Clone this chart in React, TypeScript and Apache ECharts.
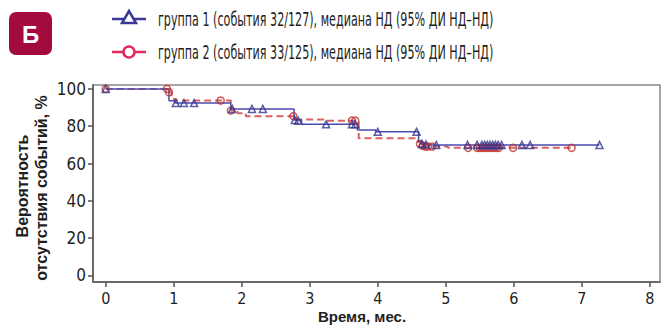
import React, { useEffect, useRef } from "react";
import * as echarts from "echarts";

const xTicks = [0, 1, 2, 3, 4, 5, 6, 7, 8];
const yTicks = [0, 20, 40, 60, 80, 100];

const legendLabels = [
  "группа 1 (события 32/127), медиана НД (95% ДИ НД–НД)",
  "группа 2 (события 33/125), медиана НД (95% ДИ НД–НД)",
];
const yTitleLines = ["Вероятность", "отсутствия событий, %"];
const xTitle = "Время, мес.";
const panelLetter = "Б";

// Kaplan–Meier steps: [time, survival % after the step]
const group1Curve: [number, number][] = [
  [0, 100], [0.93, 93.7], [1.02, 92.4], [1.84, 89.3], [2.77, 83.4], [2.88, 81.0],
  [3.7, 78.0], [3.97, 77.0], [4.6, 72.0], [4.64, 70.5], [4.75, 70.0], [7.26, 70.0],
];
const group1Censored: [number, number][] = [
  [0, 100], [1.03, 92.4], [1.15, 92.4], [1.3, 92.4], [1.86, 89.3], [2.15, 89.3], [2.31, 89.3],
  [2.78, 83.4], [2.83, 83.0], [3.24, 81.0], [3.62, 81.0], [3.67, 81.0], [4.0, 77.0], [4.57, 77.0],
  [4.65, 70.5], [4.71, 70.2], [4.86, 70.0], [5.32, 70.0], [5.46, 70.0], [5.53, 70.0], [5.57, 70.0],
  [5.61, 70.0], [5.65, 70.0], [5.69, 70.0], [5.73, 70.0], [5.77, 70.0], [5.82, 70.0], [6.12, 70.0],
  [6.24, 70.0], [7.26, 70.0],
];
const group2Curve: [number, number][] = [
  [0, 100], [0.92, 98.2], [0.97, 96.3], [1.0, 94.5], [1.04, 93.8], [1.84, 88.4], [1.94, 87.0],
  [2.06, 85.4], [2.77, 83.6], [3.25, 83.0], [3.72, 73.6], [4.59, 71.5], [4.63, 70.0], [4.68, 69.1],
  [5.03, 68.4], [6.85, 68.4],
];
const group2Censored: [number, number][] = [
  [0, 100], [0.9, 100], [0.93, 98.2], [1.69, 93.8], [1.84, 88.4], [2.76, 85.4], [3.62, 83.0],
  [3.67, 83.0], [4.62, 70.5], [4.66, 69.5], [4.7, 69.1], [4.74, 69.1], [4.8, 69.1], [5.33, 68.4],
  [5.46, 68.4], [5.5, 68.4], [5.54, 68.4], [5.58, 68.4], [5.62, 68.4], [5.66, 68.4], [5.7, 68.4],
  [5.74, 68.4], [5.78, 68.4], [5.99, 68.4], [6.85, 68.4],
];

const BLUE_LINE = "#4b4bad";
const BLUE_MARK = "#35358f";
const RED_LINE = "#d9625d";
const RED_MARK = "#c0302c";
const LEG_BLUE = "#3a3a96";
const LEG_RED = "#de2a5c";
const NARROW = "'Liberation Sans Narrow', 'DejaVu Sans Condensed', sans-serif";

export default function App() {
  const ref = useRef<HTMLDivElement>(null);
  useEffect(() => {
    if (!ref.current) return;
    const chart = echarts.init(ref.current, undefined, { renderer: "svg" });
    const legendY = [19, 52];
    const legendGraphics: any[] = [];
    legendLabels.forEach((label, i) => {
      const color = i === 0 ? LEG_BLUE : LEG_RED;
      const y = legendY[i];
      legendGraphics.push({
        type: "line",
        shape: { x1: 112, y1: y, x2: 146, y2: y },
        style: { stroke: color, lineWidth: 2.5 },
      });
      if (i === 0) {
        legendGraphics.push({
          type: "polygon",
          shape: { points: [[129, y - 8], [122, y + 4], [136, y + 4]] },
          style: { fill: "#fff", stroke: color, lineWidth: 2.5 },
        });
      } else {
        legendGraphics.push({
          type: "circle",
          shape: { cx: 129, cy: y, r: 5.5 },
          style: { fill: "#fff", stroke: color, lineWidth: 2.5 },
        });
      }
      legendGraphics.push({
        type: "text",
        x: 158,
        y,
        scaleX: 0.62,
        style: {
          text: label,
          fill: "#1e1e1e",
          font: `20px ${NARROW}`,
          textVerticalAlign: "middle",
        },
      });
    });

    chart.setOption({
      animation: false,
      grid: {
        left: 93,
        right: 2,
        top: 85,
        bottom: 43,
        show: true,
        borderColor: "#8a8a8a",
        borderWidth: 1.5,
        backgroundColor: "transparent",
      },
      xAxis: {
        type: "value",
        min: -0.187,
        max: 8.15,
        splitLine: { show: false },
        axisLine: { show: true, onZero: false, lineStyle: { color: "#6a6a6a", width: 2 } },
        axisTick: { show: true, customValues: xTicks, length: 5, lineStyle: { color: "#555", width: 1.5 } },
        axisLabel: {
          customValues: xTicks,
          color: "#1e1e1e",
          fontSize: 16,
          fontFamily: NARROW,
          margin: 8,
        },
      },
      yAxis: {
        type: "value",
        min: -3.5,
        max: 102.1,
        splitLine: { show: false },
        axisLine: { show: true, onZero: false, lineStyle: { color: "#6a6a6a", width: 2 } },
        axisTick: { show: true, customValues: yTicks, length: 5, lineStyle: { color: "#555", width: 1.5 } },
        axisLabel: {
          customValues: yTicks,
          color: "#1e1e1e",
          fontSize: 17,
          fontFamily: NARROW,
          margin: 7,
        },
      },
      graphic: [
        {
          type: "rect",
          shape: { x: 9, y: 12, width: 43, height: 43, r: 7 },
          style: { fill: "#a30a3d" },
        },
        {
          type: "text",
          x: 30.5,
          y: 34,
          style: {
            text: panelLetter,
            fill: "#fff",
            font: "bold 24px 'Liberation Sans', sans-serif",
            textAlign: "center",
            textVerticalAlign: "middle",
          },
        },
        ...legendGraphics,
        {
          type: "text",
          x: 22,
          y: 186,
          rotation: Math.PI / 2,
          style: {
            text: yTitleLines[0],
            fill: "#1e1e1e",
            font: "bold 16px 'Liberation Sans', sans-serif",
            textAlign: "center",
            textVerticalAlign: "middle",
          },
        },
        {
          type: "text",
          x: 41,
          y: 188,
          rotation: Math.PI / 2,
          style: {
            text: yTitleLines[1],
            fill: "#1e1e1e",
            font: "bold 16px 'Liberation Sans', sans-serif",
            textAlign: "center",
            textVerticalAlign: "middle",
          },
        },
        {
          type: "text",
          x: 362,
          y: 316,
          style: {
            text: xTitle,
            fill: "#1e1e1e",
            font: "bold 15px 'Liberation Sans', sans-serif",
            textAlign: "center",
            textVerticalAlign: "middle",
          },
        },
      ],
      series: [
        {
          type: "line",
          step: "end",
          data: group2Curve,
          showSymbol: false,
          symbol: "none",
          lineStyle: { color: RED_LINE, width: 2, type: [7, 4] },
          z: 2,
        },
        {
          type: "line",
          step: "end",
          data: group1Curve,
          showSymbol: false,
          symbol: "none",
          lineStyle: { color: BLUE_LINE, width: 1.5 },
          z: 3,
        },
        {
          type: "scatter",
          data: group2Censored,
          symbol: "circle",
          symbolSize: 7,
          itemStyle: { color: "rgba(255,255,255,0)", borderColor: RED_MARK, borderWidth: 1.5 },
          z: 4,
        },
        {
          type: "scatter",
          data: group1Censored,
          symbol: "triangle",
          symbolSize: 7,
          itemStyle: { color: "rgba(255,255,255,0)", borderColor: BLUE_MARK, borderWidth: 1.5 },
          z: 5,
        },
      ],
    });
    return () => chart.dispose();
  }, []);
  return (
    <div
      ref={ref}
      style={{ position: "fixed", left: 0, top: 0, width: 662, height: 325, background: "#fff" }}
    />
  );
}
